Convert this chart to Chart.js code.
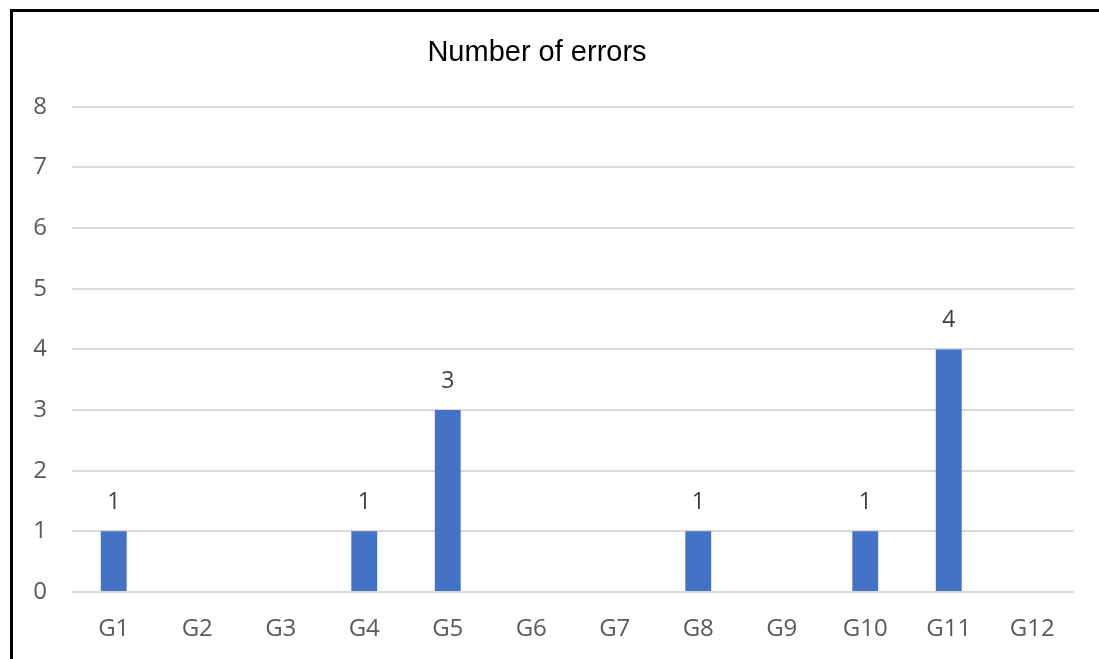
<!DOCTYPE html>
<html lang="en">

<head>
  <meta charset="UTF-8">
  <title>Number of errors</title>
  <script src="https://cdn.jsdelivr.net/npm/chart.js"></script>
  <style>
    html, body { margin: 0; padding: 0; background: #fff; }
    #moldura {
      position: absolute; left: 10px; top: 9px; right: 0; bottom: 0;
      border-left: 3px solid #000; border-top: 3px solid #000;
      pointer-events: none;
    }
    #grafico { position: absolute; left: 0; top: 0; width: 1099px; height: 659px; }
  </style>
</head>

<body>
  <div id="grafico"><canvas id="myChartCanvas" width="1099" height="659"></canvas></div>
  <div id="moldura"></div>
</body>

</html>

<script>
  // dados do gráfico
  var grupos = ['G1', 'G2', 'G3', 'G4', 'G5', 'G6', 'G7', 'G8', 'G9', 'G10', 'G11', 'G12'];
  var erros = [1, 0, 0, 1, 3, 0, 0, 1, 0, 1, 4, 0];
  var ticksY = [0, 1, 2, 3, 4, 5, 6, 7, 8];

  // rótulos em cima das barras (só quando > 0)
  const rotulos = {
    id: 'rotulos',
    afterDatasetsDraw(chart) {
      const ctx = chart.ctx;
      const meta = chart.getDatasetMeta(0);
      ctx.save();
      ctx.font = '23px "Open Sans"';
      ctx.fillStyle = '#404040';
      ctx.textAlign = 'center';
      ctx.textBaseline = 'middle';
      meta.data.forEach(function (barra, i) {
        var v = chart.data.datasets[0].data[i];
        if (v > 0) ctx.fillText(v, barra.x, barra.y - 29);
      });
      ctx.restore();
    }
  };

  const config = {
    type: 'bar',
    data: {
      labels: grupos,
      datasets: [{
        label: 'Number of errors',
        data: erros,
        backgroundColor: '#4472C4',
        borderWidth: 0,
        categoryPercentage: 1,
        barPercentage: 0.31
      }]
    },
    options: {
      responsive: false,
      animation: false,
      layout: { padding: { left: 0, right: 25, top: 0, bottom: 0 } },
      plugins: {
        legend: { display: false },
        tooltip: { enabled: false },
        title: {
          display: true,
          text: 'Number of errors',
          color: '#000',
          font: { family: '"Liberation Sans", Arial', size: 29, weight: 'normal' },
          padding: { top: 36, bottom: 36 }
        }
      },
      scales: {
        x: {
          grid: { display: false, drawTicks: false },
          border: { display: false },
          ticks: { color: '#595959', font: { family: '"Open Sans"', size: 24 }, padding: 23 },
          afterFit: function (s) { s.height = 659 - 592; }
        },
        y: {
          min: 0,
          max: 8,
          afterBuildTicks: function (s) { s.ticks = ticksY.map(function (v) { return { value: v }; }); },
          grid: { color: '#d9d9d9', lineWidth: 2, drawTicks: false },
          border: { display: false },
          ticks: { color: '#595959', font: { family: '"Open Sans"', size: 24 }, padding: 25 },
          afterFit: function (s) { s.width = 72; }
        }
      }
    },
    plugins: [rotulos]
  };

  let myChart = new Chart(document.getElementById('myChartCanvas'), config);
</script>
